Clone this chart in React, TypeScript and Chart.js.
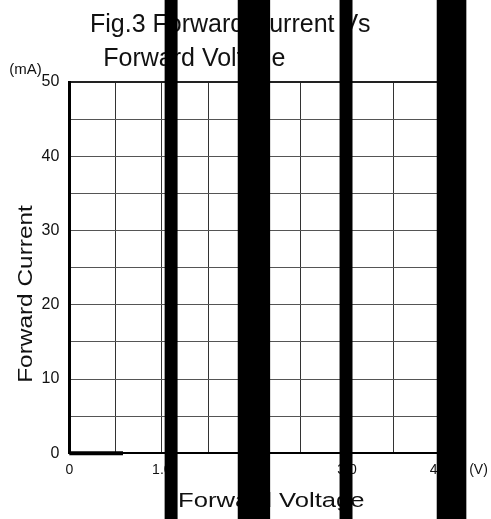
import { useEffect, useRef } from "react";
import { Chart, registerables } from "chart.js";

Chart.register(...registerables);

// ---- data ----
const forwardVoltage = [0, 0.58]; // V
const forwardCurrent = [0, 0]; // mA
const xMin = 0;
const xMax = 4;
const xGridStep = 0.5;
const xLabelStep = 1;
const yMin = 0;
const yMax = 50;
const yGridStep = 5;
const yLabelStep = 10;
const titleLines = ["Fig.3 Forward Current Vs", "Forward Voltage"];
const xTitle = "Forward Voltage";
const yTitle = "Forward Current";
const xUnit = "(V)";
const yUnit = "(mA)";
// vertical black occluding stripes present in the picture (in volts)
const stripes: [number, number][] = [
  [1.03, 1.17],
  [1.82, 2.17],
  [2.92, 3.06],
  [3.97, 4.29],
];

const FONT = "'Liberation Sans', Arial, Helvetica, sans-serif";

function drawText(
  ctx: CanvasRenderingContext2D,
  text: string,
  x: number,
  y: number,
  size: number,
  sx = 1,
  rot = 0
) {
  ctx.save();
  ctx.translate(x, y);
  if (rot) ctx.rotate(rot);
  ctx.scale(sx, 1);
  ctx.font = `${size}px ${FONT}`;
  ctx.fillStyle = "#111";
  ctx.textAlign = "center";
  ctx.textBaseline = "alphabetic";
  ctx.fillText(text, 0, 0);
  ctx.restore();
}

const overlayPlugin = {
  id: "overlay",
  afterDraw(chart: any) {
    const { ctx, chartArea, scales } = chart;
    const L = chartArea.left;
    const B = chartArea.bottom;
    // titles
    drawText(ctx, titleLines[0], L + 161, 31.7, 25);
    drawText(ctx, titleLines[1], L + 125, 65.7, 25);
    // units
    drawText(ctx, yUnit, 25.5, chartArea.top - 8.5, 15);
    drawText(ctx, xUnit, chartArea.right + 39, B + 20.7, 14);
    // axis titles (stretched)
    drawText(ctx, xTitle, L + 202, B + 54, 20.5, 1.25);
    drawText(ctx, yTitle, 32, 294, 20, 1.22, -Math.PI / 2);
    // stripes
    const x = scales.x;
    ctx.save();
    ctx.fillStyle = "#000";
    for (const [a, b] of stripes) {
      const pa = x.getPixelForValue(a);
      const pb = x.getPixelForValue(b);
      ctx.fillRect(pa, 0, pb - pa, chart.height);
    }
    ctx.restore();
  },
};

export default function App() {
  const ref = useRef<HTMLCanvasElement>(null);
  useEffect(() => {
    document.body.style.margin = "0";
    const chart = new Chart(ref.current!, {
      type: "line",
      data: {
        datasets: [
          {
            data: forwardVoltage.map((v, i) => ({ x: v, y: forwardCurrent[i] })),
            borderColor: "#000",
            borderWidth: 4,
            pointRadius: 0,
            clip: false as any,
          },
        ],
      },
      options: {
        animation: false,
        responsive: false,
        layout: { padding: { top: 82, right: 51.5, bottom: 0, left: 0 } },
        plugins: {
          legend: { display: false },
          title: { display: false },
          tooltip: { enabled: false },
        },
        scales: {
          x: {
            type: "linear",
            min: xMin,
            max: xMax,
            afterFit: (s: any) => {
              s.height = 65.7;
            },
            ticks: {
              stepSize: xGridStep,
              autoSkip: false,
              maxRotation: 0,
              padding: 8,
              color: "#111",
              font: { family: FONT, size: 14 },
              callback: (v: any) => {
                const n = Number(v);
                if (Math.abs(n / xLabelStep - Math.round(n / xLabelStep)) > 1e-6) return "";
                return n === 0 ? "0" : n.toFixed(1);
              },
            },
            grid: {
              color: "#333",
              lineWidth: 1,
              drawTicks: false,
            },
            border: { display: true, color: "#000", width: 2 },
          },
          y: {
            type: "linear",
            min: yMin,
            max: yMax,
            afterFit: (s: any) => {
              s.width = 69.3;
            },
            ticks: {
              stepSize: yGridStep,
              autoSkip: false,
              padding: 10,
              color: "#111",
              font: { family: FONT, size: 16 },
              callback: (v: any) => {
                const n = Number(v);
                return n % yLabelStep === 0 ? String(n) : "";
              },
            },
            grid: {
              color: (c: any) => (c.tick && c.tick.value === yMax ? "#222" : "#555"),
              lineWidth: (c: any) => (c.tick && c.tick.value === yMax ? 2 : 1),
              drawTicks: false,
            },
            border: { display: true, color: "#000", width: 3 },
          },
        },
      },
      plugins: [overlayPlugin],
    });
    return () => chart.destroy();
  }, []);
  return (
    <canvas
      ref={ref}
      width={491}
      height={519}
      style={{ display: "block", width: 491, height: 519 }}
    />
  );
}
